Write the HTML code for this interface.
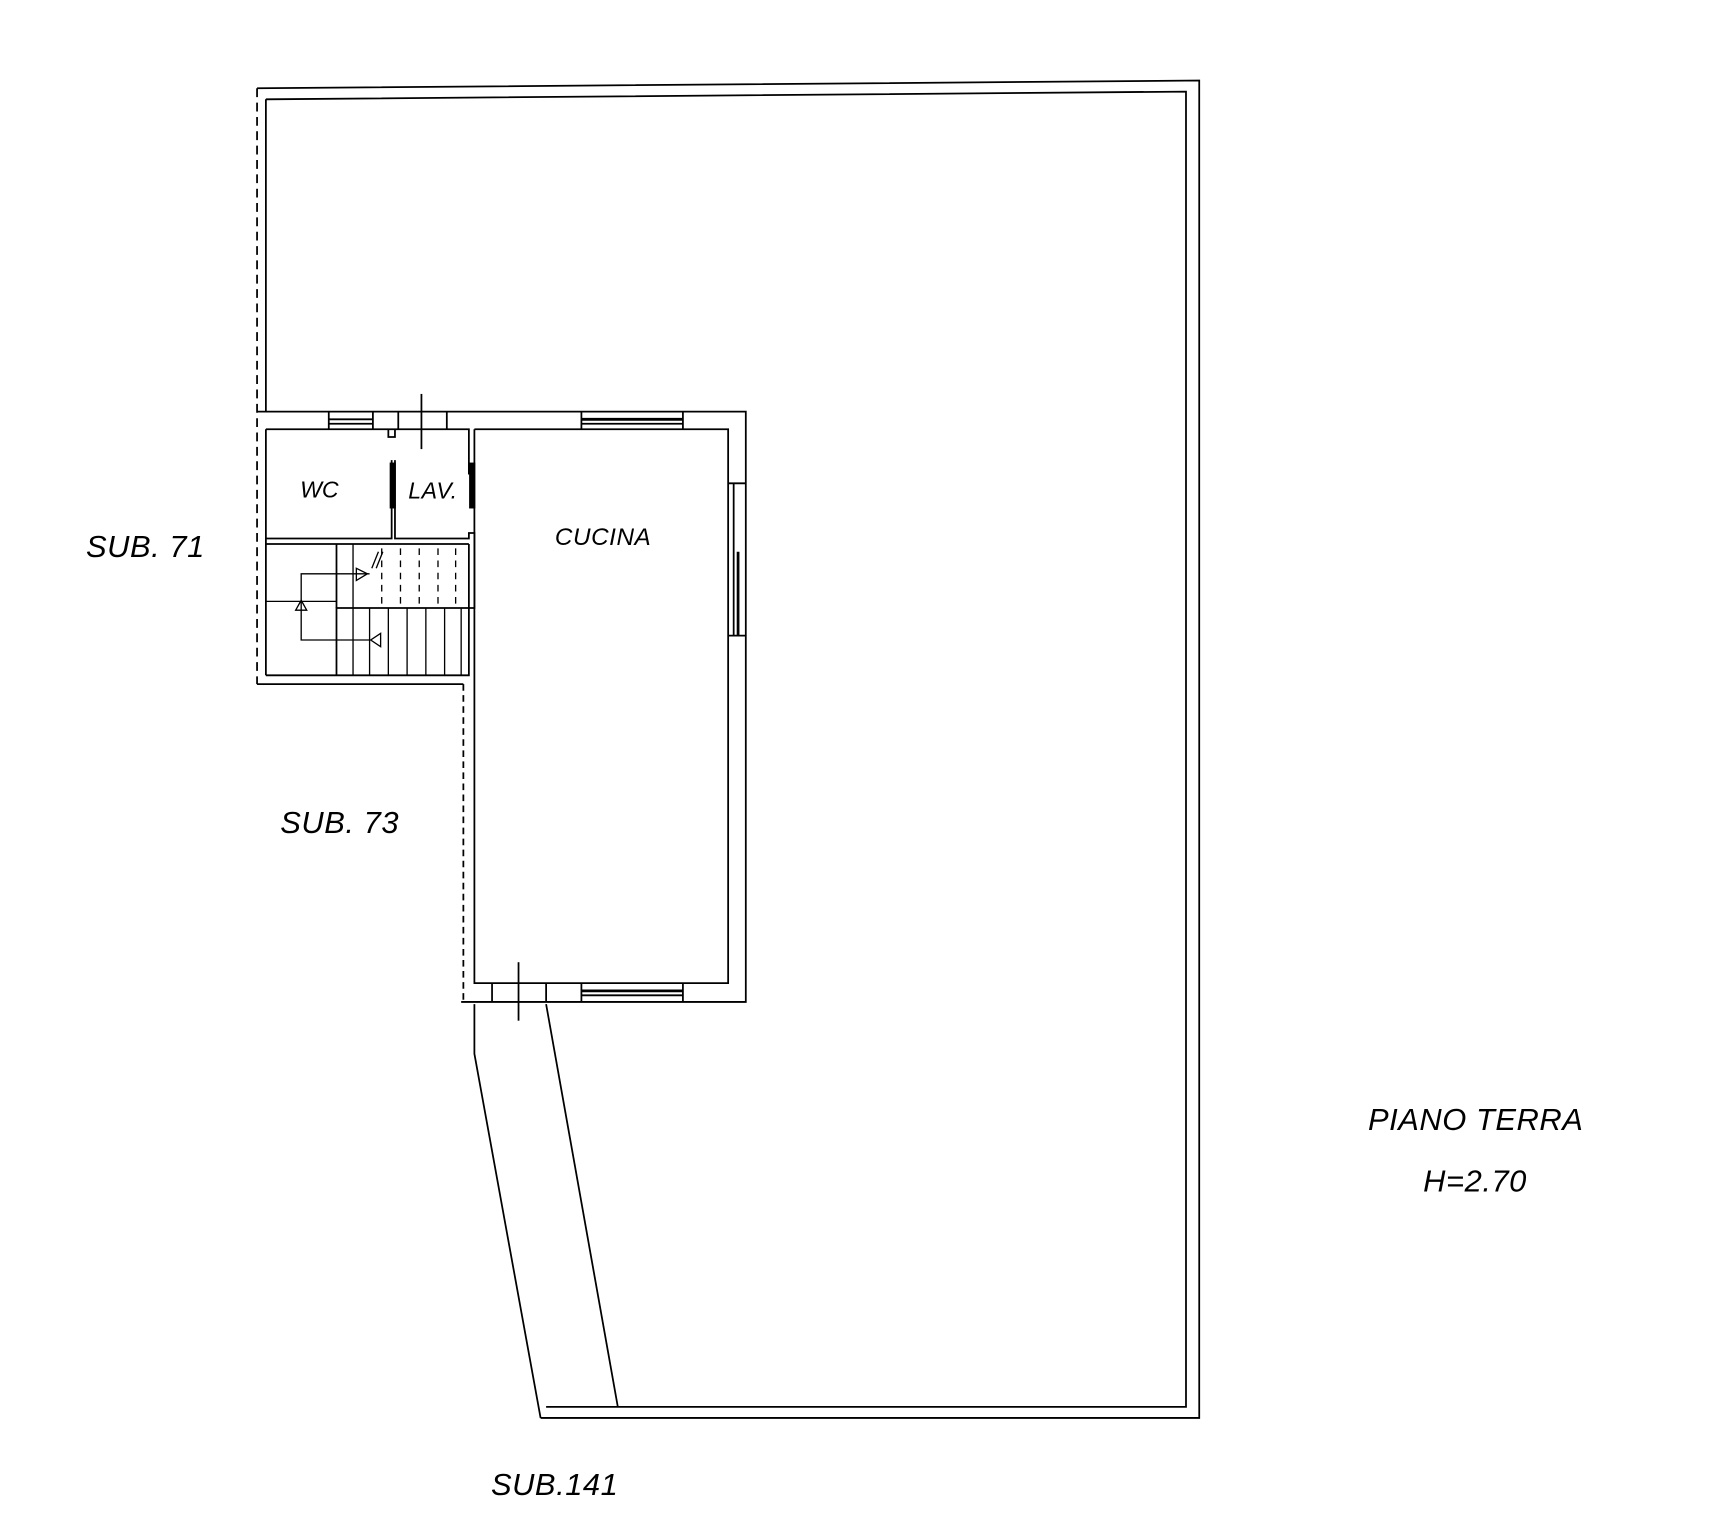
<!DOCTYPE html>
<html><head><style>html,body{margin:0;padding:0;background:#fff}svg{display:block}</style></head><body>
<svg width="1731" height="1536" viewBox="0 0 1569 1392" preserveAspectRatio="none" xmlns="http://www.w3.org/2000/svg">
<g fill="none" stroke="#000" stroke-width="1.6">
<polyline points="233,80 1087,73 1087,1285 490,1285"/>
<polyline points="241,90 1075,83 1075,1275 495,1275"/>
<line x1="233" y1="80" x2="233" y2="620" stroke-dasharray="8,5"/>
<line x1="241" y1="90" x2="241" y2="373"/>
<polyline points="430,910 430,955 490,1285"/>
<line x1="495" y1="910" x2="560" y2="1275"/>
<polyline points="233,373 676,373 676,908 418,908"/>
<polyline points="430,389 660,389 660,891 430,891 430,389"/>
<line x1="420" y1="620" x2="420" y2="908" stroke-dasharray="6,4"/>
<polyline points="233,620 420,620"/>
<polyline points="241,612 425,612 425,493"/>
<line x1="241" y1="389" x2="241" y2="612"/>
<polyline points="241,389 425,389 425,430"/>
<polyline points="241,488 355,488 355,417"/>
<polyline points="358,417 358,488 425,488 425,483 430,483 430,551 305,551 305,612"/>
<polyline points="241,493 425,493"/>
<line x1="305" y1="493" x2="305" y2="551"/>
<line x1="298" y1="373" x2="298" y2="389"/><line x1="338" y1="373" x2="338" y2="389"/>
<line x1="298" y1="380" x2="338" y2="380"/><line x1="298" y1="384" x2="338" y2="384"/>
<line x1="361" y1="373" x2="361" y2="389"/><line x1="405" y1="373" x2="405" y2="389"/>
<polyline points="352,389 352,396 358,396 358,389"/>
<line x1="382" y1="357" x2="382" y2="407"/>
<line x1="527" y1="373" x2="527" y2="389"/><line x1="619" y1="373" x2="619" y2="389"/>
<line x1="527" y1="380" x2="619" y2="380" stroke-width="2.5"/><line x1="527" y1="384" x2="619" y2="384"/>
<line x1="660" y1="438" x2="676" y2="438"/><line x1="660" y1="576" x2="676" y2="576"/>
<line x1="665" y1="438" x2="665" y2="576"/><line x1="669" y1="500" x2="669" y2="576" stroke-width="2.5"/>
<line x1="446" y1="891" x2="446" y2="908"/><line x1="495" y1="891" x2="495" y2="908"/>
<line x1="470" y1="872" x2="470" y2="925"/>
<line x1="527" y1="891" x2="527" y2="908"/><line x1="619" y1="891" x2="619" y2="908"/>
<line x1="527" y1="898" x2="619" y2="898" stroke-width="2.5"/><line x1="527" y1="902" x2="619" y2="902"/>
<rect x="354" y="420" width="4" height="40" fill="#000"/>
<rect x="426" y="420" width="4" height="40" fill="#000"/>
<g stroke-width="1.2">
<line x1="320" y1="493" x2="320" y2="612"/>
<line x1="335" y1="551" x2="335" y2="612"/><line x1="352" y1="551" x2="352" y2="612"/>
<line x1="369" y1="551" x2="369" y2="612"/><line x1="386" y1="551" x2="386" y2="612"/>
<line x1="403" y1="551" x2="403" y2="612"/><line x1="418" y1="551" x2="418" y2="612"/>
<g stroke-dasharray="6,5"><line x1="346" y1="497" x2="346" y2="548"/><line x1="363" y1="497" x2="363" y2="548"/>
<line x1="380" y1="497" x2="380" y2="548"/><line x1="397" y1="497" x2="397" y2="548"/><line x1="413" y1="497" x2="413" y2="548"/></g>
<line x1="337" y1="515" x2="343" y2="500"/><line x1="341" y1="515" x2="347" y2="500"/>
<polyline points="335,520 273,520 273,580 335,580"/>
<line x1="241" y1="545" x2="305" y2="545"/>
<polygon points="323,515 323,526 333,520"/>
<polygon points="268,553 278,553 273,544"/>
<polygon points="345,574 345,586 336,580"/>
</g>
</g>
<g font-family="Liberation Sans, sans-serif" font-style="italic" fill="#000">
<text x="78" y="505" font-size="28" letter-spacing="0.5">SUB. 71</text>
<text x="254" y="755" font-size="28" letter-spacing="0.5">SUB. 73</text>
<text x="503" y="494" font-size="22" letter-spacing="0.5">CUCINA</text>
<text x="272" y="451" font-size="21">WC</text>
<text x="370" y="452" font-size="21" letter-spacing="0.5">LAV.</text>
<text x="1240" y="1024" font-size="28" letter-spacing="0.5">PIANO TERRA</text>
<text x="1290" y="1080" font-size="28" letter-spacing="0.5">H=2.70</text>
<text x="445" y="1355" font-size="28" letter-spacing="0.5">SUB.141</text>
</g>
</svg>
</body></html>
